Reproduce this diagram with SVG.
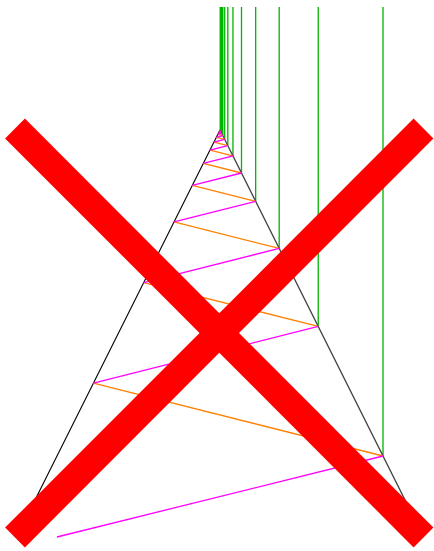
<svg xmlns="http://www.w3.org/2000/svg" width="434" height="551" viewBox="0 0 434 551">
<style>
.g{stroke:#00b400;stroke-width:1.3;fill:none}
.m{stroke:#ff00ff;stroke-width:1.3;fill:none}
.o{stroke:#ff8000;stroke-width:1.3;fill:none}
.x{stroke:#ff0000;stroke-width:28;stroke-linecap:butt}
</style>
<rect width="434" height="551" fill="#ffffff"/>
<g id="green">
<path class="g" d="M383 7V456M318.23 7V326.46M279.2 7V248.4M255.68 7V201.35M241.5 7V173M232.96 7V155.91M227.81 7V145.62M224.71 7V139.41M222.84 7V135.67M221.71 7V133.42M221.03 7V132.06M220.62 7V131.24M220.38 7V130.75M220.2 7V130.4"/>
</g>
<g id="sides">
<line x1="220" y1="130" x2="25" y2="520" stroke="#000000" stroke-width="1.1"/>
<line x1="220" y1="130" x2="415" y2="520" stroke="#444444" stroke-width="1.3"/>
</g>
<g id="zigzag">
<path class="o" d="M93.46 383.07L383 456M143.74 282.51L318.23 326.46M174.05 221.91L279.2 248.4M192.31 185.39L255.68 201.35M203.31 163.38L241.5 173M209.94 150.12L232.96 155.91M213.94 142.12L227.81 145.62M216.35 137.31L224.71 139.41M217.8 134.4L222.84 135.67M218.68 132.65L221.71 133.42M219.2 131.6L221.03 132.06M219.52 130.96L220.62 131.24"/>
<path class="m" d="M383 456L57 537M318.23 326.46L93.46 383.07M279.2 248.4L143.74 282.51M255.68 201.35L174.05 221.91M241.5 173L192.31 185.39M232.96 155.91L203.31 163.38M227.81 145.62L209.94 150.12M224.71 139.41L213.94 142.12M222.84 135.67L216.35 137.31M221.71 133.42L217.8 134.4M221.03 132.06L218.68 132.65M220.62 131.24L219.2 131.6M220.38 130.75L219.52 130.96"/>
</g>
<g id="cross">
<line class="x" x1="15" y1="128.5" x2="423.5" y2="537.5"/>
<line class="x" x1="423.5" y1="128.5" x2="15" y2="537.5"/>
</g>
</svg>
